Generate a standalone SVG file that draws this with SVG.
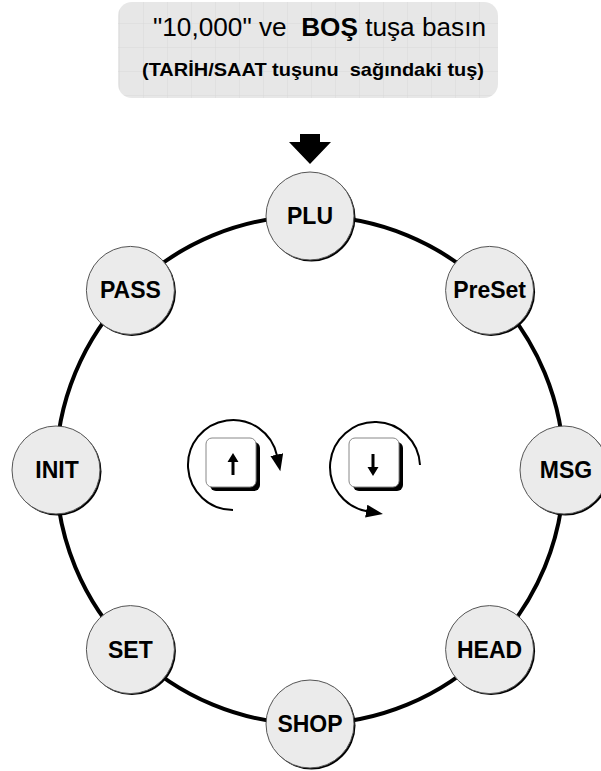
<svg xmlns="http://www.w3.org/2000/svg" width="601" height="771" viewBox="0 0 601 771">
<defs>
<style>
.lbl{font-family:"Liberation Sans",Arial,sans-serif;font-weight:bold;font-size:23px;fill:#000;text-anchor:middle}
.conn{fill:none;stroke:#000;stroke-width:4}
.shadow{fill:#000}
.face{fill:#ebebeb;stroke:#555;stroke-width:1}
.rot{fill:none;stroke:#000;stroke-width:2}
.key{fill:#fff;stroke:#888;stroke-width:1}
</style>
<pattern id="grid" width="24" height="24" patternUnits="userSpaceOnUse">
<rect width="24" height="24" fill="#e7e7e7"/>
<path d="M24 0V24M0 24H24" stroke="#d9d9d9" stroke-width="1" fill="none"/>
</pattern>
<marker id="ah" markerUnits="userSpaceOnUse" markerWidth="20" markerHeight="14" refX="1" refY="6.5" orient="auto">
<path d="M0 0L17 6.5L0 13Z" fill="#000"/>
</marker>
</defs>
<rect width="601" height="771" fill="#fff"/>

<g id="header">
<rect x="118" y="2" width="380" height="96" rx="14" fill="url(#grid)"/>
<text x="153" y="36" font-family="Liberation Sans,Arial,sans-serif" font-size="26" textLength="333" lengthAdjust="spacingAndGlyphs" xml:space="preserve">"10,000" ve  <tspan font-weight="bold">BOŞ</tspan> tuşa basın</text>
<text x="142" y="76" font-family="Liberation Sans,Arial,sans-serif" font-size="19" font-weight="bold" textLength="342" lengthAdjust="spacingAndGlyphs" xml:space="preserve">(TARİH/SAAT tuşunu  sağındaki tuş)</text>
</g>

<g id="start-arrow">
<path d="M300 134H320V142H331L310 164L289 142H300Z" fill="#000"/>
</g>

<g id="connectors">
<path class="conn" d="M310 216A254 254 0 0 1 489.6 290.4"/>
<path class="conn" d="M489.6 290.4A254 254 0 0 1 564 470"/>
<path class="conn" d="M564 470A254 254 0 0 1 489.6 649.6"/>
<path class="conn" d="M489.6 649.6A254 254 0 0 1 310 724"/>
<path class="conn" d="M310 724A254 254 0 0 1 130.4 649.6"/>
<path class="conn" d="M130.4 649.6A254 254 0 0 1 56 470"/>
<path class="conn" d="M56 470A254 254 0 0 1 130.4 290.4"/>
<path class="conn" d="M130.4 290.4A254 254 0 0 1 310 216"/>
</g>

<g id="node-plu"><circle class="shadow" cx="311.5" cy="217.5" r="44"/><circle class="face" cx="310" cy="216" r="44"/><text class="lbl" x="310" y="224">PLU</text></g>
<g id="node-preset"><circle class="shadow" cx="491.1" cy="291.9" r="44"/><circle class="face" cx="489.6" cy="290.4" r="44"/><text class="lbl" x="489.6" y="298.4">PreSet</text></g>
<g id="node-msg"><circle class="shadow" cx="565.5" cy="471.5" r="44"/><circle class="face" cx="564" cy="470" r="44"/><text class="lbl" x="566" y="478">MSG</text></g>
<g id="node-head"><circle class="shadow" cx="491.1" cy="651.1" r="44"/><circle class="face" cx="489.6" cy="649.6" r="44"/><text class="lbl" x="489.6" y="657.6">HEAD</text></g>
<g id="node-shop"><circle class="shadow" cx="311.5" cy="725.5" r="44"/><circle class="face" cx="310" cy="724" r="44"/><text class="lbl" x="310" y="732">SHOP</text></g>
<g id="node-set"><circle class="shadow" cx="131.9" cy="651.1" r="44"/><circle class="face" cx="130.4" cy="649.6" r="44"/><text class="lbl" x="130.4" y="657.6">SET</text></g>
<g id="node-init"><circle class="shadow" cx="57.5" cy="471.5" r="44"/><circle class="face" cx="56" cy="470" r="44"/><text class="lbl" x="57" y="478">INIT</text></g>
<g id="node-pass"><circle class="shadow" cx="131.9" cy="291.9" r="44"/><circle class="face" cx="130.4" cy="290.4" r="44"/><text class="lbl" x="130.4" y="298.4">PASS</text></g>

<g id="icon-up">
<rect x="210" y="442" width="50" height="49" rx="6" fill="#000"/>
<rect class="key" x="206" y="438" width="50" height="49" rx="6"/>
<path d="M231.5 475V462H227.5L233 453L238.5 462H234.5V475Z" fill="#000"/>
<path class="rot" d="M233 510A45 45 0 1 1 277 455.6" marker-end="url(#ah)"/>
</g>

<g id="icon-down">
<rect x="353" y="442" width="50" height="49" rx="6" fill="#000"/>
<rect class="key" x="349" y="438" width="50" height="49" rx="6"/>
<path d="M371.5 454V467H367.5L373 476L378.5 467H374.5V454Z" fill="#000"/>
<path class="rot" d="M420 465A45 45 0 1 0 367.2 511.3" marker-end="url(#ah)"/>
</g>
</svg>
